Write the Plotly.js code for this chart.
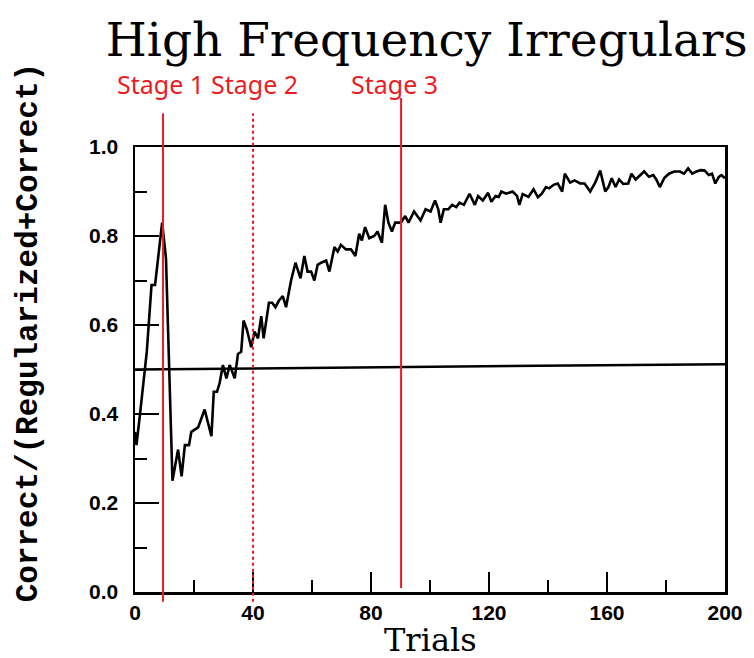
<!DOCTYPE html>
<html>
<head>
<meta charset="utf-8">
<script src="https://cdn.plot.ly/plotly-3.0.1.min.js"></script>
<style>html,body{margin:0;padding:0;background:#fff;}#chart{width:754px;height:658px;}</style>
</head>
<body>
<div id="chart"></div>
<script>
// Trial numbers and Correct/(Regularized+Correct) values
var trials = [0, 0.5, 1.7, 4, 5.6, 6.8, 9.2, 10.5, 12.7, 14.6, 15.8, 16.9, 18.3, 19.1, 21.4, 22.5, 23.6, 25.9, 26.7, 27.8,
  28.7, 29.8, 31, 32.1, 33.8, 34.9, 36, 36.8, 37.9, 39.4, 40.5, 41.7, 42.8, 43.6, 45.4, 46.5, 47.6, 48.8, 50.1, 51.2,
  52.9, 54.4, 56.1, 57.4, 58.5, 59.7, 60.8, 61.9, 63.1, 64.8, 65.9, 67.6, 68.7, 69.8, 71.5, 73.2, 74.7, 76, 76.9, 78,
  79.4, 81.1, 82.2, 83.7, 84.8, 85.9, 87.1, 88.2, 90.1, 91.6, 92.7, 94.6, 95.7, 96.8, 98.5, 100.2, 101.7, 102.8, 103.6, 104.7,
  106.2, 107.5, 108.9, 110, 111.5, 113.4, 115.2, 116.3, 117.9, 119.7, 120.8, 122.2, 123.3, 124.2, 125.8, 128, 129.5, 130.3, 131.4, 133.4,
  135.1, 136.6, 137.9, 139.3, 140.4, 141.9, 143.3, 144.8, 145.7, 147.5, 149, 150.9, 152.4, 154.3, 156, 157.7, 159.4, 160.5, 161.6, 162.9,
  164.1, 165.5, 167.2, 168.3, 169.7, 171.2, 172.6, 174.2, 175.7, 176.8, 177.9, 179.4, 181, 182.8, 184.7, 186.1, 187.5, 188.9, 190.3, 191.8,
  193.1, 194.5, 195.6, 196.7, 197.9, 198.8, 200];
var correctRatio = [0.36, 0.33, 0.40, 0.54, 0.69, 0.69, 0.83, 0.75, 0.25, 0.32, 0.26, 0.33, 0.33, 0.36, 0.37, 0.39, 0.41, 0.35, 0.45, 0.45,
  0.47, 0.51, 0.48, 0.51, 0.48, 0.535, 0.54, 0.61, 0.59, 0.55, 0.585, 0.57, 0.62, 0.57, 0.65, 0.65, 0.64, 0.655, 0.665, 0.64,
  0.70, 0.74, 0.705, 0.755, 0.72, 0.72, 0.70, 0.735, 0.74, 0.745, 0.72, 0.775, 0.765, 0.78, 0.77, 0.77, 0.755, 0.805, 0.79, 0.82,
  0.795, 0.80, 0.81, 0.785, 0.87, 0.83, 0.81, 0.83, 0.83, 0.845, 0.83, 0.855, 0.845, 0.835, 0.86, 0.855, 0.88, 0.86, 0.83, 0.86,
  0.86, 0.87, 0.865, 0.875, 0.87, 0.895, 0.87, 0.89, 0.88, 0.897, 0.877, 0.89, 0.888, 0.90, 0.895, 0.90, 0.89, 0.87, 0.894, 0.888,
  0.905, 0.887, 0.895, 0.91, 0.907, 0.915, 0.918, 0.90, 0.94, 0.92, 0.925, 0.918, 0.918, 0.90, 0.92, 0.947, 0.90, 0.91, 0.93, 0.91,
  0.927, 0.917, 0.918, 0.94, 0.927, 0.937, 0.945, 0.933, 0.937, 0.926, 0.91, 0.93, 0.94, 0.945, 0.945, 0.94, 0.952, 0.94, 0.945, 0.948,
  0.947, 0.937, 0.94, 0.918, 0.933, 0.937, 0.93];

// Chance level line (as drawn, slightly tilted in the scan)
var chanceX = [0, 200];
var chanceY = [0.5, 0.512];

// Stage markers
var stageNames = ['Stage 1', 'Stage 2', 'Stage 3'];
var stageTrials = [9.5, 40, 90.2];
var stageLabelTrials = [8.5, 40.5, 87.8];

var xTickVals = [0, 40, 80, 120, 160, 200];
var yTickVals = [0, 0.2, 0.4, 0.6, 0.8, 1.0];

var red = 'rgb(235,28,36)';

var traces = [
  {x: chanceX, y: chanceY, mode: 'lines', line: {color: 'black', width: 2.5}, hoverinfo: 'skip', showlegend: false},
  {x: trials, y: correctRatio, mode: 'lines', line: {color: 'black', width: 2.6}, showlegend: false}
];

var stageStyles = [
  {dash: 'solid', y0: -0.022, y1: 1.076},
  {dash: 'dot', y0: -0.022, y1: 1.076},
  {dash: 'solid', y0: 0.009, y1: 1.110}
];

var shapes = stageTrials.map(function (t, i) {
  return {type: 'line', xref: 'x', yref: 'paper', x0: t, x1: t,
    y0: stageStyles[i].y0, y1: stageStyles[i].y1,
    line: {color: red, width: 2, dash: stageStyles[i].dash}};
});

var annotations = stageNames.map(function (s, i) {
  return {text: s, xref: 'x', yref: 'paper', x: stageLabelTrials[i], y: 1.142,
    xanchor: 'center', yanchor: 'middle', showarrow: false,
    font: {family: 'Noto Sans', size: 25, color: red}};
});

annotations.push({text: 'Correct/(Regularized+Correct)', xref: 'paper', yref: 'paper',
  x: -0.181, y: 0.584, xanchor: 'center', yanchor: 'middle', textangle: -90, showarrow: false,
  font: {family: 'Liberation Mono', size: 31, color: 'black', weight: 'bold'}});
annotations.push({text: 'Trials', xref: 'paper', yref: 'paper',
  x: 0.5, y: -0.108, xanchor: 'center', yanchor: 'middle', showarrow: false,
  font: {family: 'DejaVu Serif', size: 32, color: 'black'}});

var layout = {
  width: 754, height: 658,
  margin: {l: 135, r: 29, t: 147, b: 66},
  paper_bgcolor: 'white', plot_bgcolor: 'white',
  title: {text: 'High Frequency Irregulars', x: 0.566, y: 0.94, xref: 'container', yref: 'container',
    xanchor: 'center', yanchor: 'middle', font: {family: 'DejaVu Serif', size: 47, color: 'black'}},
  xaxis: {range: [0, 200], tickvals: xTickVals, ticktext: xTickVals.map(String),
    ticks: 'inside', ticklen: 20, tickwidth: 2, tickcolor: 'black',
    minor: {dtick: 20, tick0: 0, ticks: 'inside', ticklen: 12, tickwidth: 2, tickcolor: 'black'},
    showline: true, linewidth: 2.5, linecolor: 'black', mirror: true,
    showgrid: false, zeroline: false,
    tickfont: {family: 'Liberation Sans', size: 21, color: 'black', weight: 'bold'}},
  yaxis: {range: [0, 1], tickvals: yTickVals, ticktext: yTickVals.map(function (v) { return v.toFixed(1); }),
    ticks: 'inside', ticklen: 24, tickwidth: 2, tickcolor: 'black',
    minor: {dtick: 0.1, tick0: 0, ticks: 'inside', ticklen: 12, tickwidth: 2, tickcolor: 'black'},
    showline: true, linewidth: 2.5, linecolor: 'black', mirror: true,
    showgrid: false, zeroline: false, ticklabelstandoff: 10,
    tickfont: {family: 'Liberation Sans', size: 21, color: 'black', weight: 'bold'}},
  shapes: shapes,
  annotations: annotations
};

Plotly.newPlot('chart', traces, layout, {displayModeBar: false, staticPlot: true});
</script>
</body>
</html>
